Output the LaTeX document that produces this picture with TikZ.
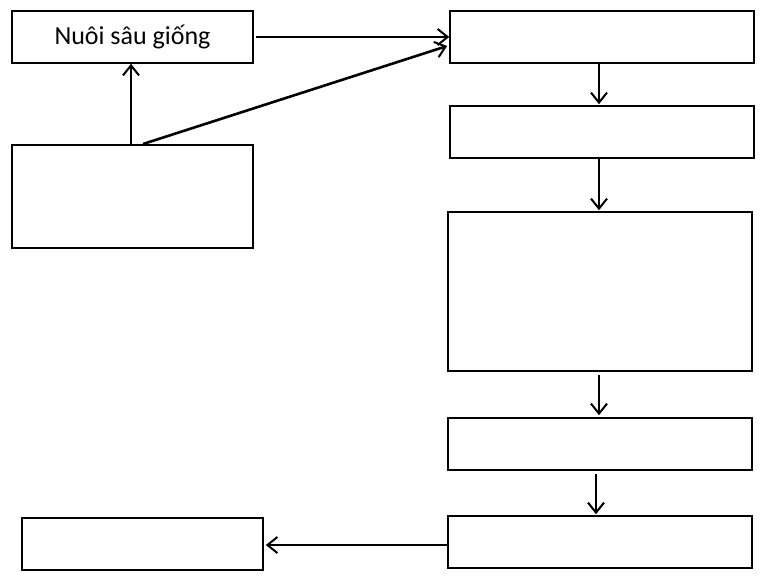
\documentclass[tikz,border=0pt]{standalone}
\usepackage{fontspec}
\setmainfont{Carlito}
\usetikzlibrary{arrows.meta}
\begin{document}
\begin{tikzpicture}[x=1pt,y=-1pt,
  box/.style={draw,line width=1.6pt,inner sep=0pt},
  conn/.style={line width=2.6pt,-{Straight Barb[length=10pt,width=16pt,line width=2pt]}}]
\useasboundingbox (0,0) rectangle (763,576);
\fill[white] (0,0) rectangle (763,576);
\node[box,minimum width=241pt,minimum height=52pt,font=\fontsize{26}{31}\selectfont] (A) at (132.5,37) {Nuôi sâu giống};
\node[box,minimum width=241pt,minimum height=103pt] (B) at (132.5,196.5) {};
\node[box,minimum width=304pt,minimum height=52pt] (C) at (602,37) {};
\node[box,minimum width=304pt,minimum height=52pt] (D) at (602,132) {};
\node[box,minimum width=304pt,minimum height=159pt] (E) at (600,291.5) {};
\node[box,minimum width=304pt,minimum height=52pt] (F) at (600,444) {};
\node[box,minimum width=304pt,minimum height=52pt] (G) at (600,542) {};
\node[box,minimum width=241pt,minimum height=52pt] (H) at (142.5,544) {};
\draw[conn] ([xshift=2pt]A.east) -- (C.west);
\draw[conn] (B.north -| 131,0) -- (A.south -| 131,0);
\draw[conn] (143,144) coordinate (b2) -- ([xshift=-2pt,yshift=-9pt]C.west);
\draw[conn] (C.south -| 599,0) -- ([yshift=1pt]D.north -| 599,0);
\draw[conn] (D.south -| 599,0) -- ([yshift=1pt]E.north -| 599,0);
\draw[conn] ([yshift=-3pt]E.south -| 599,0) -- ([yshift=2pt]F.north -| 599,0);
\draw[conn] ([yshift=-3pt]F.south -| 596,0) -- ([yshift=1pt]G.north -| 596,0);
\draw[conn] (G.west |- 0,545) -- ([xshift=2pt]H.east |- 0,545);
\end{tikzpicture}
\end{document}
